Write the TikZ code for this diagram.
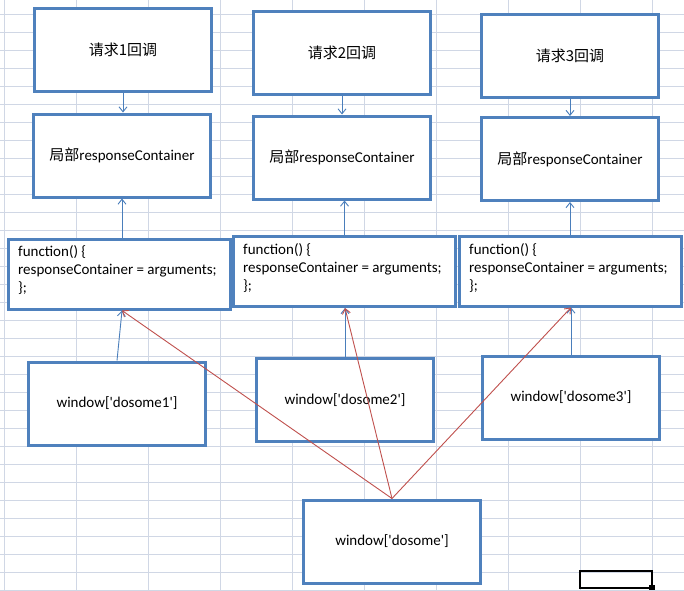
\documentclass[tikz,border=0pt]{standalone}
\usepackage{fontspec}
\setmainfont{Carlito}[Ligatures=TeXOff]
\newfontfamily\cjk{Noto Sans CJK SC}
\usetikzlibrary{arrows.meta}
\definecolor{gridc}{HTML}{D0D7E5}
\definecolor{boxc}{HTML}{4F81BD}
\definecolor{linec}{HTML}{4A7EBB}
\definecolor{redc}{HTML}{C0504D}
\tikzset{
  box/.style={draw=boxc, line width=3pt, fill=white, rectangle, inner sep=0pt,
    minimum width=177pt, minimum height=83pt, font=\fontsize{15}{18}\selectfont},
  fbox/.style={box, minimum width=222pt, minimum height=70pt},
  ftext/.style={anchor=north west, inner sep=0pt, align=left,
    font=\fontsize{15}{18}\selectfont},
  conn/.style={draw=linec, line width=0.9pt, -{Straight Barb[length=5pt,width=8pt]}},
  rconn/.style={draw=redc, line width=0.9pt, -{Straight Barb[length=5pt,width=8pt]}},
  gridline/.style={draw=gridc, line width=0.8pt},
}
\begin{document}
\begin{tikzpicture}[x=1pt,y=-1pt]
\useasboundingbox (0,0) rectangle (684,590);
\fill[white] (0,0) rectangle (684,590);
% grid
\foreach \gx in {4,76,...,652} \draw[gridline] (\gx,0) -- (\gx,590);
\foreach \gy in {14,32,...,590} \draw[gridline] (0,\gy) -- (684,\gy);
% selection cell
\draw[black, line width=2pt] (580,571) rectangle (652,588);
\fill[black] (649,585) rectangle (655,590);
% column 1
\node[box] (r1) at (123,50) {\cjk 请求1回调};
\node[box] (l1) at (122,155.5) {\cjk 局部\normalfont responseContainer};
\node[fbox] (f1) at (119.5,274) {};
\node[ftext] (t1) at (18,245.5) {function() \{\\responseContainer = arguments;\\\};};
\node[box] (w1) at (117,403.5) {window['dosome1']};
% column 2
\node[box] (r2) at (342,52.5) {\cjk 请求2回调};
\node[box] (l2) at (342,157.5) {\cjk 局部\normalfont responseContainer};
\node[fbox] (f2) at (344.5,271.5) {};
\node[ftext] (t2) at (243,243) {function() \{\\responseContainer = arguments;\\\};};
\node[box] (w2) at (345,400) {window['dosome2']};
% column 3
\node[box] (r3) at (570,55.5) {\cjk 请求3回调};
\node[box] (l3) at (570,159) {\cjk 局部\normalfont responseContainer};
\node[fbox] (f3) at (570,271) {};
\node[ftext] (t3) at (469,243) {function() \{\\responseContainer = arguments;\\\};};
\node[box] (w3) at (571,397.5) {window['dosome3']};
% bottom
\node[box] (d) at (392,541.5) {window['dosome']};
% blue connectors
\draw[conn] (r1.south) -- (r1.south |- l1.north);
\draw[conn] (f1.north -| l1.south) -- (l1.south);
\draw[conn] (w1.north) -- (f1.south -| l1.south);
\draw[conn] (r2.south) -- (r2.south |- l2.north);
\draw[conn] (f2.north) -- (f2.north |- l2.south);
\draw[conn] (w2.north) -- (w2.north |- f2.south);
\draw[conn] (r3.south) -- (r3.south |- l3.north);
\draw[conn] (f3.north) -- (f3.north |- l3.south);
\draw[conn] (w3.north) -- (w3.north |- f3.south);
% red connectors
\draw[rconn] (d.north) -- (f1.south -| l1.south);
\draw[rconn] (d.north) -- (w2.north |- f2.south);
\draw[rconn] (d.north) -- (w3.north |- f3.south);
\end{tikzpicture}
\end{document}
